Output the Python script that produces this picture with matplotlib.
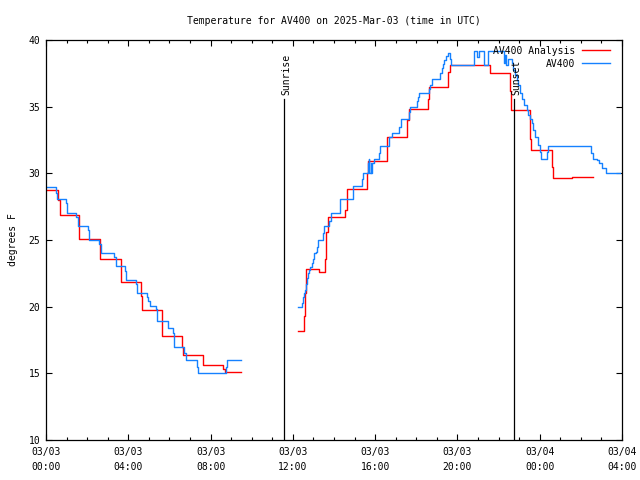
import matplotlib
matplotlib.use('Agg')
import matplotlib.pyplot as plt
from matplotlib.ticker import MultipleLocator

# hours since 03/03 00:00 UTC, temperatures in degrees F
# AV400 observations (morning / afternoon pieces)
obs_am_hours = [0.00, 0.47, 0.52, 0.97, 1.02, 1.46, 1.54, 2.03, 2.08, 2.59,
                2.66, 3.31, 3.40, 3.85, 3.89, 4.36, 4.41, 4.92, 4.97, 5.06,
                5.35, 5.41, 5.95, 6.16, 6.22, 6.72, 6.80, 7.33, 7.38, 8.75,
                8.78, 9.50]
obs_am_temp = [29.0, 28.55, 28.1, 27.8, 27.05, 26.75, 26.05, 25.75, 25.0, 24.7,
               24.0, 23.7, 23.05, 22.7, 22.0, 21.7, 21.0, 20.75, 20.4, 20.05,
               19.8, 18.95, 18.4, 18.0, 17.0, 16.5, 16.0, 15.5, 15.0, 15.5,
               16.0, 16.0]

obs_pm_hours = [12.27, 12.43, 12.48, 12.53, 12.58, 12.62, 12.67, 12.72, 12.79, 12.85,
                12.92, 12.98, 13.05, 13.11, 13.17, 13.24, 13.45, 13.50, 13.78, 13.83,
                14.28, 14.92, 15.35, 15.40, 15.66, 15.69, 15.72, 15.78, 15.82, 15.87,
                15.94, 16.20, 16.26, 16.69, 16.80, 17.18, 17.24, 17.66, 17.71, 18.05,
                18.10, 18.15, 18.64, 18.69, 18.77, 19.15, 19.23, 19.28, 19.36, 19.44,
                19.54, 19.64, 19.68, 20.80, 20.97, 21.05, 21.28, 21.50, 22.25, 22.31,
                22.38, 22.44, 22.64, 22.72, 22.80, 22.88, 22.96, 23.04, 23.14, 23.24,
                23.37, 23.45, 23.53, 23.61, 23.69, 23.77, 23.93, 24.01, 24.06, 24.37,
                24.39, 26.50, 26.58, 26.77, 26.90, 27.01, 27.21, 27.90]
obs_pm_temp = [20.0, 20.3, 20.75, 21.0, 21.25, 21.67, 22.17, 22.5, 22.75, 23.0,
               23.3, 23.6, 24.0, 24.1, 24.5, 25.0, 25.55, 26.05, 26.4, 27.0,
               28.05, 29.05, 29.55, 30.0, 30.8, 31.05, 30.0, 30.8, 30.0, 30.8,
               31.05, 31.5, 32.05, 32.75, 33.0, 33.5, 34.05, 34.6, 35.0, 35.4,
               35.7, 36.0, 36.3, 36.6, 37.05, 37.5, 37.9, 38.2, 38.5, 38.8,
               39.05, 38.6, 38.1, 39.15, 38.7, 39.15, 38.1, 39.15, 38.3, 38.9,
               38.1, 38.6, 38.25, 37.75, 37.4, 37.0, 36.6, 36.0, 35.6, 35.1,
               34.75, 34.4, 34.1, 33.75, 33.25, 32.75, 32.1, 31.6, 31.1, 31.6,
               32.05, 31.55, 31.1, 31.0, 30.75, 30.4, 30.0, 30.0]

# AV400 analysis
ana_am_hours = [0.00, 0.58, 0.68, 1.60, 2.62, 3.65, 4.60, 4.68, 5.62, 5.66,
                6.60, 6.65, 7.62, 8.59, 8.68, 9.50]
ana_am_temp = [28.75, 28.0, 26.9, 25.05, 23.6, 21.85, 20.8, 19.75, 18.8, 17.8,
               17.0, 16.4, 15.6, 15.3, 15.1, 15.1]

ana_pm_hours = [12.27, 12.56, 12.60, 12.65, 13.29, 13.58, 13.62, 13.69, 14.55, 14.62,
                15.59, 15.66, 16.60, 17.57, 17.64, 18.59, 18.64, 19.56, 19.62, 21.59,
                22.56, 22.60, 23.53, 23.58, 24.58, 24.63, 25.55, 26.58]
ana_pm_temp = [18.15, 19.3, 21.0, 22.8, 22.6, 23.6, 25.6, 26.7, 27.25, 28.8,
               30.0, 30.9, 32.75, 34.0, 34.8, 35.6, 36.45, 37.6, 38.1, 37.55,
               36.2, 34.75, 32.55, 31.75, 30.5, 29.67, 29.75, 29.75]

sunrise_hour = 11.57
sunset_hour = 22.75
sun_line_top = 35.6

tick_hours = [0, 4, 8, 12, 16, 20, 24, 28]
tick_labels = ['03/03\n00:00', '03/03\n04:00', '03/03\n08:00', '03/03\n12:00',
               '03/03\n16:00', '03/03\n20:00', '03/04\n00:00', '03/04\n04:00']

plt.rcParams['font.family'] = ['DejaVu Sans Mono']
plt.rcParams['font.size'] = 7

red = '#ff0000'
blue = '#1581ff'

fig = plt.figure(figsize=(6.4, 4.8), dpi=100)
ax = fig.add_axes([46 / 640, 1 - 440 / 480, 576 / 640, 400 / 480])

# analysis first, observations on top (same order as the legend)
ax.plot(ana_am_hours, ana_am_temp, color=red, lw=1.0, drawstyle='steps-post',
        label='AV400 Analysis')
ax.plot(ana_pm_hours, ana_pm_temp, color=red, lw=1.0, drawstyle='steps-post')
ax.plot(obs_am_hours, obs_am_temp, color=blue, lw=1.0, drawstyle='steps-post',
        label='AV400')
ax.plot(obs_pm_hours, obs_pm_temp, color=blue, lw=1.0, drawstyle='steps-post')

# sunrise / sunset markers
for hr, name in [(sunrise_hour, 'Sunrise'), (sunset_hour, 'Sunset')]:
    ax.plot([hr, hr], [10, sun_line_top], color='black', lw=0.9)
    ax.text(hr + 0.1, sun_line_top + 0.3, name, rotation=90,
            ha='center', va='bottom')

ax.set_xlim(0, 28)
ax.set_ylim(10, 40)
ax.set_xticks(tick_hours)
ax.set_xticklabels(tick_labels, linespacing=1.6)
ax.xaxis.set_minor_locator(MultipleLocator(1))
ax.yaxis.set_major_locator(MultipleLocator(5))

ax.tick_params(which='both', direction='in', top=True, right=True, width=0.8)
ax.tick_params(which='major', length=4)
ax.tick_params(which='minor', length=2)
ax.tick_params(axis='x', pad=5)
ax.tick_params(axis='y', pad=4)
for sp in ax.spines.values():
    sp.set_linewidth(0.9)

ax.set_ylabel('degrees F', labelpad=8)
ax.set_title('Temperature for AV400 on 2025-Mar-03 (time in UTC)',
             fontsize=7, pad=11.5)

ax.legend(loc='upper right', bbox_to_anchor=(0.979, 0.986), frameon=False,
          markerfirst=False, handlelength=2.9, handletextpad=0.7,
          labelspacing=0.3, borderaxespad=0, borderpad=0)

fig.savefig('out.png', dpi=100)
